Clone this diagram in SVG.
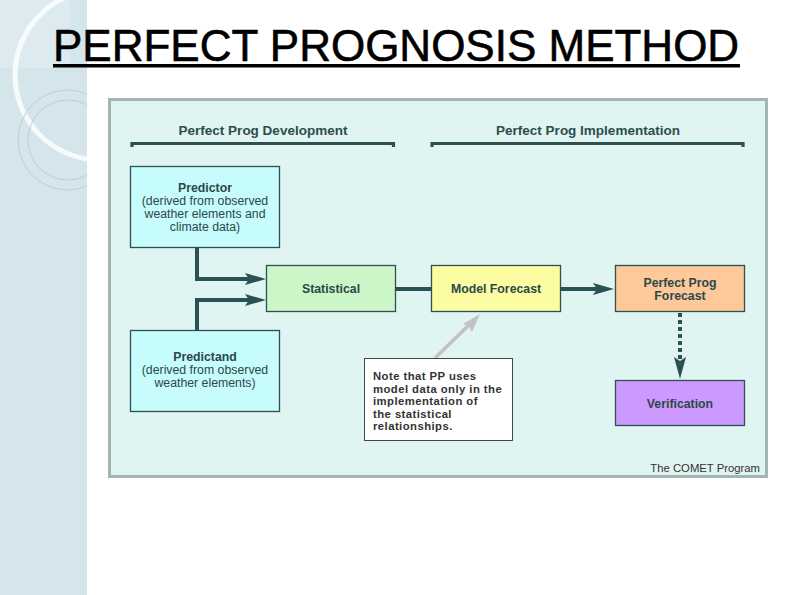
<svg xmlns="http://www.w3.org/2000/svg" width="794" height="595" viewBox="0 0 794 595">
<defs>
<style>
.node{stroke:#2d5050;stroke-width:1.3}
.t{font-family:"Liberation Sans",Arial,sans-serif;fill:#2c4848;text-anchor:middle;font-size:12.3px}
.b{font-weight:bold}
.conn{fill:none;stroke:#2a5252;stroke-width:4}
.head{fill:#2a5252}
.hdr{font-family:"Liberation Sans",Arial,sans-serif;font-weight:bold;font-size:13.5px;fill:#2f4c4c;text-anchor:middle}
</style>
<clipPath id="strip"><rect x="0" y="0" width="87" height="595"/></clipPath>
</defs>
<rect x="0" y="0" width="794" height="595" fill="#ffffff"/>
<g id="strip-bg" clip-path="url(#strip)">
<rect x="0" y="0" width="87" height="595" fill="#d4e6ec"/>
<rect x="0" y="0" width="70" height="68" fill="#e2eff3" opacity="0.6"/>
<circle cx="100" cy="75" r="85" fill="none" stroke="#ffffff" stroke-width="5" opacity="0.8"/>
<circle cx="68" cy="140" r="50" fill="none" stroke="#b9cfd6" stroke-width="1"/>
<circle cx="68" cy="140" r="40" fill="none" stroke="#b9cfd6" stroke-width="1"/>
</g>
<g id="title">
<text x="53" y="61" font-family="'Liberation Sans',Arial,sans-serif" font-size="44" fill="#000" stroke="#000" stroke-width="0.6">PERFECT PROGNOSIS METHOD</text>
<rect x="53" y="64" width="687" height="3.5" fill="#000"/>
</g>
<g id="panel">
<rect x="109.5" y="99.5" width="657" height="377" fill="#e0f4f2" stroke="#a3b4b4" stroke-width="3"/>
</g>
<g id="headers">
<text class="hdr" x="263" y="135">Perfect Prog Development</text>
<path d="M132,147 V143.5 H393.5 V147" fill="none" stroke="#2d5050" stroke-width="3.2"/>
<text class="hdr" x="588" y="135">Perfect Prog Implementation</text>
<path d="M432,147 V143.5 H743 V147" fill="none" stroke="#2d5050" stroke-width="3.2"/>
</g>
<g id="connectors">
<path class="conn" d="M197,248 V279 H250"/>
<polygon class="head" points="266,279 245,273 249,279 245,285"/>
<path class="conn" d="M197,330 V300 H250"/>
<polygon class="head" points="266,300 245,294 249,300 245,306"/>
<path class="conn" d="M396,289 H432"/>
<path class="conn" d="M561,289 H598"/>
<polygon class="head" points="614,289 593,283 597,289 593,295"/>
<path class="conn" d="M680,313 V360" stroke-dasharray="4,3"/>
<polygon class="head" points="680,379 674,357 680,361 686,357"/>
<path d="M435,358 L470,324" fill="none" stroke="#c2c2c2" stroke-width="3.5"/>
<polygon points="480,314 472,332 469,326 463,324" fill="#c2c2c2"/>
</g>
<g id="predictor">
<rect class="node" x="130.5" y="166.5" width="149" height="81" fill="#c6fcfc"/>
<text class="t b" x="205" y="192">Predictor</text>
<text class="t" x="205" y="205">(derived from observed</text>
<text class="t" x="205" y="218">weather elements and</text>
<text class="t" x="205" y="231">climate data)</text>
</g>
<g id="predictand">
<rect class="node" x="130.5" y="330.5" width="149" height="81" fill="#c6fcfc"/>
<text class="t b" x="205" y="361">Predictand</text>
<text class="t" x="205" y="374">(derived from observed</text>
<text class="t" x="205" y="387">weather elements)</text>
</g>
<g id="statistical">
<rect class="node" x="266.5" y="265.5" width="129" height="46" fill="#ccf6c8"/>
<text class="t b" x="331" y="293">Statistical</text>
</g>
<g id="model-forecast">
<rect class="node" x="431.5" y="265.5" width="129" height="46" fill="#fcfca2"/>
<text class="t b" x="496" y="293">Model Forecast</text>
</g>
<g id="pp-forecast">
<rect class="node" x="615.5" y="265.5" width="129" height="46" fill="#fdc99b"/>
<text class="t b" x="680" y="287">Perfect Prog</text>
<text class="t b" x="680" y="300">Forecast</text>
</g>
<g id="verification">
<rect class="node" x="615.5" y="380.5" width="129" height="45" fill="#cc99fe"/>
<text class="t b" x="680" y="408">Verification</text>
</g>
<g id="note">
<rect x="364.5" y="358.5" width="148" height="82" fill="#ffffff" stroke="#3a4a4a" stroke-width="1"/>
<g font-family="'Liberation Sans',Arial,sans-serif" font-weight="bold" font-size="11.3" letter-spacing="0.45" fill="#333">
<text x="373" y="380">Note that PP uses</text>
<text x="373" y="392.5">model data only in the</text>
<text x="373" y="405">implementation of</text>
<text x="373" y="417.5">the statistical</text>
<text x="373" y="430">relationships.</text>
</g>
</g>
<text x="760" y="472" font-family="'Liberation Sans',Arial,sans-serif" font-size="11.3" fill="#333" text-anchor="end">The COMET Program</text>
</svg>
